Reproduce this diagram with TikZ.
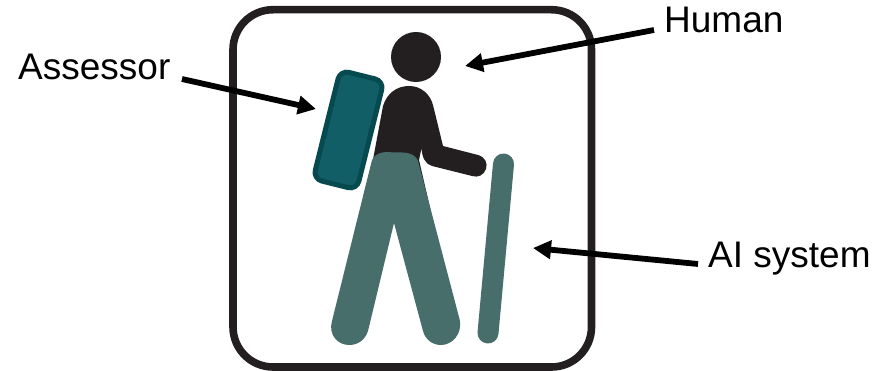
\documentclass[tikz,border=0pt]{standalone}
\usepackage{fontspec}
\setmainfont{Liberation Sans}
\usetikzlibrary{arrows.meta}
\definecolor{inkblack}{HTML}{231F20}
\definecolor{legteal}{HTML}{476E6A}
\definecolor{packfill}{HTML}{115E66}
\definecolor{packedge}{HTML}{064A50}
\tikzset{
  label text/.style={inner sep=0pt,font=\fontsize{37}{40}\selectfont,text=black},
  pointer/.style={draw=black,line width=5.8pt,-{Triangle[length=18pt,width=18pt]},shorten >=0pt,shorten <=0pt},
  frame box/.style={draw=inkblack,line width=7.6pt,rounded corners=40pt},
  pack box/.style={draw=packedge,line width=5pt,fill=packfill,rounded corners=9pt,minimum width=45pt,minimum height=112pt,rotate=-14,inner sep=0pt},
  limb/.style={fill=legteal,draw=none},
}
\begin{document}
\begin{tikzpicture}[x=1pt,y=-1pt]
\useasboundingbox (0,0) rectangle (877,371);
\fill[white] (0,0) rectangle (877,371);
\draw[frame box] (233,9.7) rectangle (591.5,367);
% head
\node[circle,fill=inkblack,minimum size=50pt,inner sep=0pt] (head) at (416,57) {};
% torso + arm
\fill[inkblack] (372,165) -- (383,106)
  .. controls (387,93) and (397,86) .. (409,86)
  .. controls (421,86) and (430,94) .. (433,105)
  -- (443,146) -- (478,155)
  .. controls (485,157) and (488,163) .. (486,169)
  .. controls (484,175) and (478,178) .. (472,176)
  -- (432,166)
  .. controls (425,164) and (422,157) .. (421.5,148)
  -- (419,160) -- (434,225) -- (400,225) -- cycle;
% backpack
\node[pack box] (pack) at (348.5,130) {};
% legs
\fill[limb] (372,160)
  .. controls (375,154) and (381,152) .. (387,152)
  .. controls (392,152) and (393,153) .. (397,152.5)
  .. controls (408,152) and (415,154) .. (418,161)
  -- (459.5,319)
  .. controls (463,334) and (452,345) .. (441,345)
  .. controls (432,345) and (425,339) .. (423,331)
  -- (394,223)
  -- (368,331)
  .. controls (365,340) and (358,345) .. (349,345)
  .. controls (338,345) and (328,335) .. (332,321)
  -- cycle;
% stick
\draw[legteal,line width=21pt,line cap=round] (503.5,164) -- (488,333);
% labels
\node[label text,anchor=base west] (assessor) at (18,80) {Assessor};
\node[label text,anchor=base west] (human) at (664,33) {Human};
\node[label text,anchor=base west] (aisys) at (708,267) {AI system};
% arrow ends
\coordinate (assessorfrom) at (182,79);
\coordinate (assessorto) at (316,109);
\coordinate (humanfrom) at (654,30);
\coordinate (humanto) at (465,66);
\coordinate (aifrom) at (698,264);
\coordinate (aito) at (533,248);
\draw[pointer] (assessorfrom) -- (assessorto);
\draw[pointer] (humanfrom) -- (humanto);
\draw[pointer] (aifrom) -- (aito);
\end{tikzpicture}
\end{document}
